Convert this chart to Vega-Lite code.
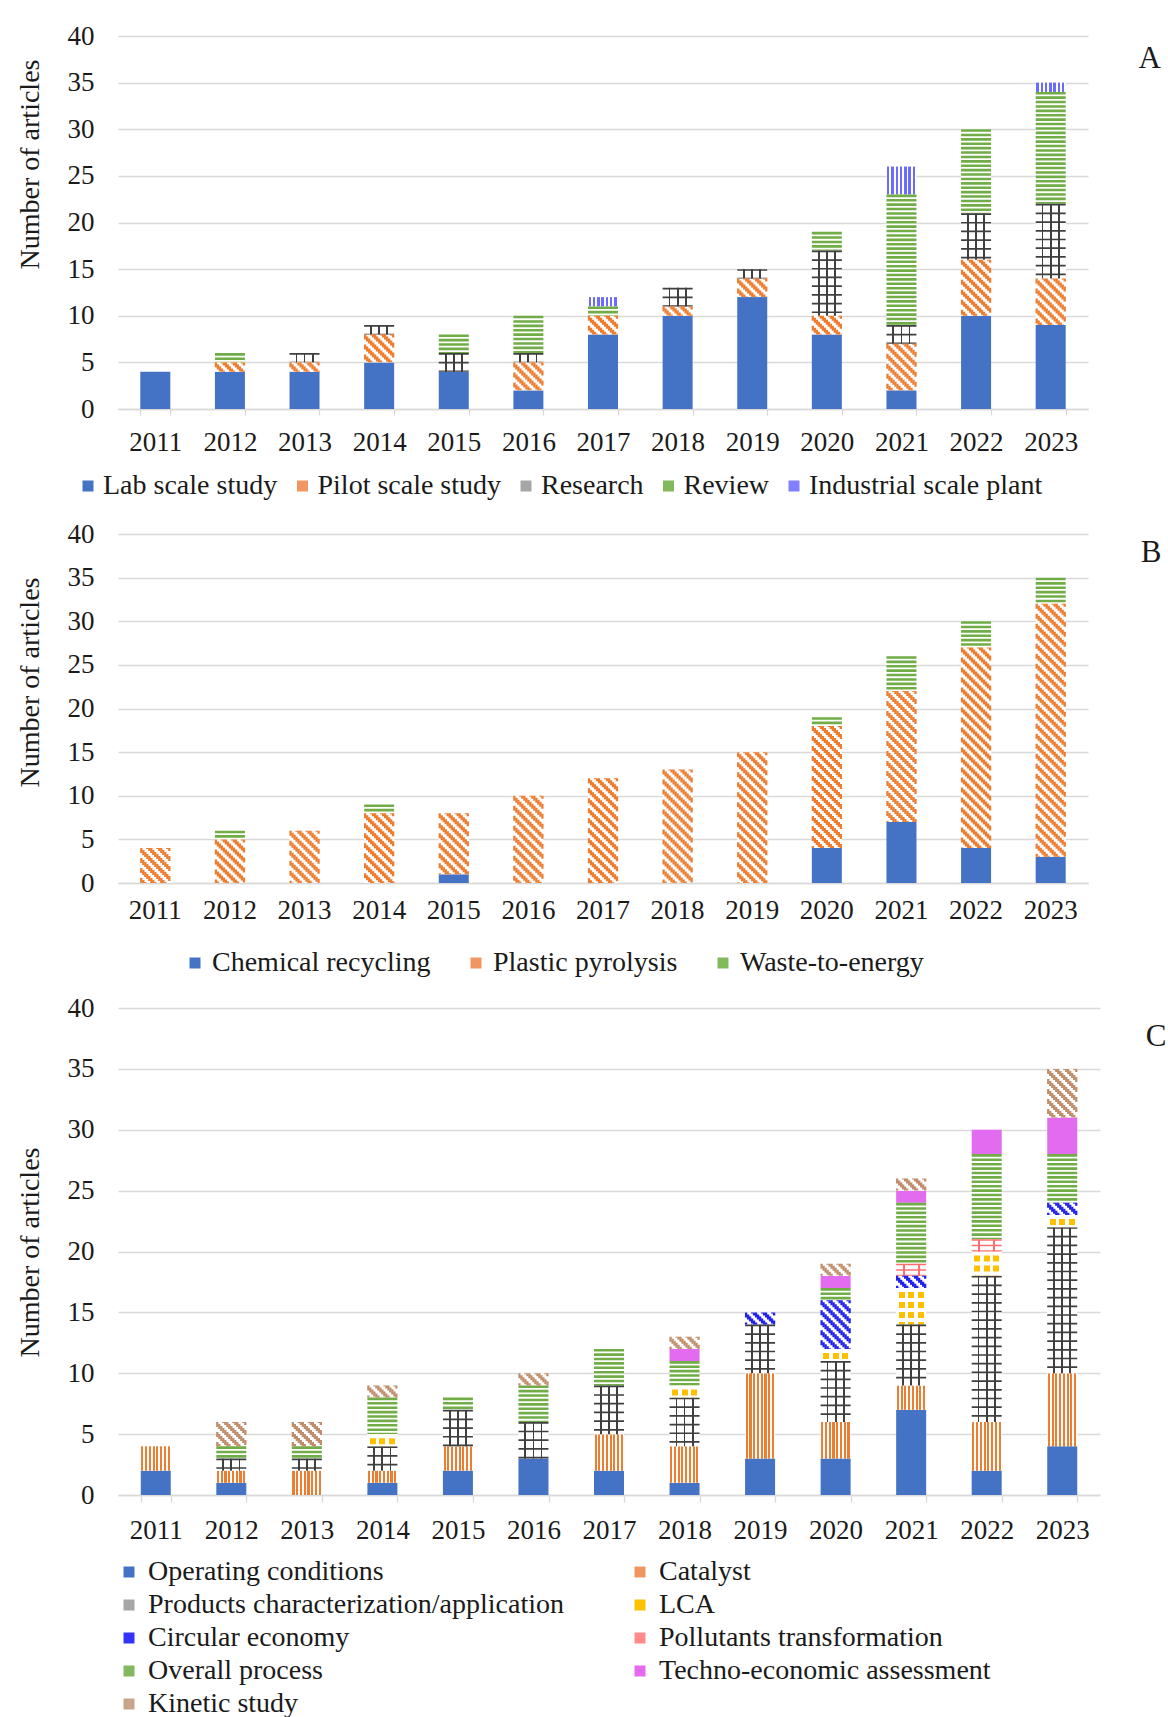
{
  "$schema": "https://vega.github.io/schema/vega-lite/v6.json",
  "background": "white",
  "padding": {"left": 15, "top": 22, "right": 60, "bottom": 10},
  "spacing": 125,
  "bounds": "flush",
  "resolve": {"scale": {"fill": "independent", "x": "independent", "y": "independent"}, "legend": {"fill": "independent"}},
  "config": {
    "font": "Liberation Serif",
    "view": {"stroke": null},
    "axis": {"labelFont": "Liberation Serif", "labelColor": "#1a1a1a", "titleFont": "Liberation Serif", "titleColor": "#1a1a1a", "titleFontWeight": "normal"},
    "legend": {"labelFont": "Liberation Serif", "labelFontSize": 28, "labelColor": "#1a1a1a", "labelLimit": 1000, "symbolType": "square", "symbolSize": 121, "symbolStrokeWidth": 0, "labelOffset": 3, "padding": 0},
    "title": {"font": "Liberation Serif", "fontSize": 31, "fontWeight": "normal", "color": "#1a1a1a"}
  },
  "datasets": {
    "a": [
      {"year": "2011", "cat": "Lab scale study", "n": 4},
      {"year": "2012", "cat": "Lab scale study", "n": 4}, {"year": "2012", "cat": "Pilot scale study", "n": 1}, {"year": "2012", "cat": "Review", "n": 1},
      {"year": "2013", "cat": "Lab scale study", "n": 4}, {"year": "2013", "cat": "Pilot scale study", "n": 1}, {"year": "2013", "cat": "Research", "n": 1},
      {"year": "2014", "cat": "Lab scale study", "n": 5}, {"year": "2014", "cat": "Pilot scale study", "n": 3}, {"year": "2014", "cat": "Research", "n": 1},
      {"year": "2015", "cat": "Lab scale study", "n": 4}, {"year": "2015", "cat": "Research", "n": 2}, {"year": "2015", "cat": "Review", "n": 2},
      {"year": "2016", "cat": "Lab scale study", "n": 2}, {"year": "2016", "cat": "Pilot scale study", "n": 3}, {"year": "2016", "cat": "Research", "n": 1}, {"year": "2016", "cat": "Review", "n": 4},
      {"year": "2017", "cat": "Lab scale study", "n": 8}, {"year": "2017", "cat": "Pilot scale study", "n": 2}, {"year": "2017", "cat": "Review", "n": 1}, {"year": "2017", "cat": "Industrial scale plant", "n": 1},
      {"year": "2018", "cat": "Lab scale study", "n": 10}, {"year": "2018", "cat": "Pilot scale study", "n": 1}, {"year": "2018", "cat": "Research", "n": 2},
      {"year": "2019", "cat": "Lab scale study", "n": 12}, {"year": "2019", "cat": "Pilot scale study", "n": 2}, {"year": "2019", "cat": "Research", "n": 1},
      {"year": "2020", "cat": "Lab scale study", "n": 8}, {"year": "2020", "cat": "Pilot scale study", "n": 2}, {"year": "2020", "cat": "Research", "n": 7}, {"year": "2020", "cat": "Review", "n": 2},
      {"year": "2021", "cat": "Lab scale study", "n": 2}, {"year": "2021", "cat": "Pilot scale study", "n": 5}, {"year": "2021", "cat": "Research", "n": 2}, {"year": "2021", "cat": "Review", "n": 14}, {"year": "2021", "cat": "Industrial scale plant", "n": 3},
      {"year": "2022", "cat": "Lab scale study", "n": 10}, {"year": "2022", "cat": "Pilot scale study", "n": 6}, {"year": "2022", "cat": "Research", "n": 5}, {"year": "2022", "cat": "Review", "n": 9},
      {"year": "2023", "cat": "Lab scale study", "n": 9}, {"year": "2023", "cat": "Pilot scale study", "n": 5}, {"year": "2023", "cat": "Research", "n": 8}, {"year": "2023", "cat": "Review", "n": 12}, {"year": "2023", "cat": "Industrial scale plant", "n": 1}
    ],
    "b": [
      {"year": "2011", "cat": "Plastic pyrolysis", "n": 4},
      {"year": "2012", "cat": "Plastic pyrolysis", "n": 5}, {"year": "2012", "cat": "Waste-to-energy", "n": 1},
      {"year": "2013", "cat": "Plastic pyrolysis", "n": 6},
      {"year": "2014", "cat": "Plastic pyrolysis", "n": 8}, {"year": "2014", "cat": "Waste-to-energy", "n": 1},
      {"year": "2015", "cat": "Chemical recycling", "n": 1}, {"year": "2015", "cat": "Plastic pyrolysis", "n": 7},
      {"year": "2016", "cat": "Plastic pyrolysis", "n": 10},
      {"year": "2017", "cat": "Plastic pyrolysis", "n": 12},
      {"year": "2018", "cat": "Plastic pyrolysis", "n": 13},
      {"year": "2019", "cat": "Plastic pyrolysis", "n": 15},
      {"year": "2020", "cat": "Chemical recycling", "n": 4}, {"year": "2020", "cat": "Plastic pyrolysis", "n": 14}, {"year": "2020", "cat": "Waste-to-energy", "n": 1},
      {"year": "2021", "cat": "Chemical recycling", "n": 7}, {"year": "2021", "cat": "Plastic pyrolysis", "n": 15}, {"year": "2021", "cat": "Waste-to-energy", "n": 4},
      {"year": "2022", "cat": "Chemical recycling", "n": 4}, {"year": "2022", "cat": "Plastic pyrolysis", "n": 23}, {"year": "2022", "cat": "Waste-to-energy", "n": 3},
      {"year": "2023", "cat": "Chemical recycling", "n": 3}, {"year": "2023", "cat": "Plastic pyrolysis", "n": 29}, {"year": "2023", "cat": "Waste-to-energy", "n": 3}
    ],
    "c": [
      {"year": "2011", "cat": "Operating conditions", "n": 2}, {"year": "2011", "cat": "Catalyst", "n": 2},
      {"year": "2012", "cat": "Operating conditions", "n": 1}, {"year": "2012", "cat": "Catalyst", "n": 1}, {"year": "2012", "cat": "Products characterization/application", "n": 1}, {"year": "2012", "cat": "Overall process", "n": 1}, {"year": "2012", "cat": "Kinetic study", "n": 2},
      {"year": "2013", "cat": "Catalyst", "n": 2}, {"year": "2013", "cat": "Products characterization/application", "n": 1}, {"year": "2013", "cat": "Overall process", "n": 1}, {"year": "2013", "cat": "Kinetic study", "n": 2},
      {"year": "2014", "cat": "Operating conditions", "n": 1}, {"year": "2014", "cat": "Catalyst", "n": 1}, {"year": "2014", "cat": "Products characterization/application", "n": 2}, {"year": "2014", "cat": "LCA", "n": 1}, {"year": "2014", "cat": "Overall process", "n": 3}, {"year": "2014", "cat": "Kinetic study", "n": 1},
      {"year": "2015", "cat": "Operating conditions", "n": 2}, {"year": "2015", "cat": "Catalyst", "n": 2}, {"year": "2015", "cat": "Products characterization/application", "n": 3}, {"year": "2015", "cat": "Overall process", "n": 1},
      {"year": "2016", "cat": "Operating conditions", "n": 3}, {"year": "2016", "cat": "Products characterization/application", "n": 3}, {"year": "2016", "cat": "Overall process", "n": 3}, {"year": "2016", "cat": "Kinetic study", "n": 1},
      {"year": "2017", "cat": "Operating conditions", "n": 2}, {"year": "2017", "cat": "Catalyst", "n": 3}, {"year": "2017", "cat": "Products characterization/application", "n": 4}, {"year": "2017", "cat": "Overall process", "n": 3},
      {"year": "2018", "cat": "Operating conditions", "n": 1}, {"year": "2018", "cat": "Catalyst", "n": 3}, {"year": "2018", "cat": "Products characterization/application", "n": 4}, {"year": "2018", "cat": "LCA", "n": 1}, {"year": "2018", "cat": "Overall process", "n": 2}, {"year": "2018", "cat": "Techno-economic assessment", "n": 1}, {"year": "2018", "cat": "Kinetic study", "n": 1},
      {"year": "2019", "cat": "Operating conditions", "n": 3}, {"year": "2019", "cat": "Catalyst", "n": 7}, {"year": "2019", "cat": "Products characterization/application", "n": 4}, {"year": "2019", "cat": "Circular economy", "n": 1},
      {"year": "2020", "cat": "Operating conditions", "n": 3}, {"year": "2020", "cat": "Catalyst", "n": 3}, {"year": "2020", "cat": "Products characterization/application", "n": 5}, {"year": "2020", "cat": "LCA", "n": 1}, {"year": "2020", "cat": "Circular economy", "n": 4}, {"year": "2020", "cat": "Overall process", "n": 1}, {"year": "2020", "cat": "Techno-economic assessment", "n": 1}, {"year": "2020", "cat": "Kinetic study", "n": 1},
      {"year": "2021", "cat": "Operating conditions", "n": 7}, {"year": "2021", "cat": "Catalyst", "n": 2}, {"year": "2021", "cat": "Products characterization/application", "n": 5}, {"year": "2021", "cat": "LCA", "n": 3}, {"year": "2021", "cat": "Circular economy", "n": 1}, {"year": "2021", "cat": "Pollutants transformation", "n": 1}, {"year": "2021", "cat": "Overall process", "n": 5}, {"year": "2021", "cat": "Techno-economic assessment", "n": 1}, {"year": "2021", "cat": "Kinetic study", "n": 1},
      {"year": "2022", "cat": "Operating conditions", "n": 2}, {"year": "2022", "cat": "Catalyst", "n": 4}, {"year": "2022", "cat": "Products characterization/application", "n": 12}, {"year": "2022", "cat": "LCA", "n": 2}, {"year": "2022", "cat": "Pollutants transformation", "n": 1}, {"year": "2022", "cat": "Overall process", "n": 7}, {"year": "2022", "cat": "Techno-economic assessment", "n": 2},
      {"year": "2023", "cat": "Operating conditions", "n": 4}, {"year": "2023", "cat": "Catalyst", "n": 6}, {"year": "2023", "cat": "Products characterization/application", "n": 12}, {"year": "2023", "cat": "LCA", "n": 1}, {"year": "2023", "cat": "Circular economy", "n": 1}, {"year": "2023", "cat": "Overall process", "n": 4}, {"year": "2023", "cat": "Techno-economic assessment", "n": 3}, {"year": "2023", "cat": "Kinetic study", "n": 4}
    ]
  },
  "vconcat": [
    {
      "width": 970, "height": 373,
      "data": {"name": "a"},
      "transform": [{"stack": "n", "groupby": ["year"], "as": ["y0", "y1"]}],
      "title": {"text": "A", "orient": "right", "anchor": "start", "angle": 0, "align": "left", "baseline": "middle", "offset": 28, "dy": 22.5, "frame": "group"},
      "encoding": {
        "x": {"field": "year", "type": "ordinal", "scale": {"paddingInner": 0.6, "paddingOuter": 0.3},
              "axis": {"title": null, "labelAngle": 0, "labelFontSize": 27, "labelPadding": 14, "domainColor": "#D9D9D9", "domainWidth": 1.3, "ticks": true, "tickColor": "#D9D9D9", "tickWidth": 1.3, "tickSize": 6, "tickBand": "extent", "grid": false}},
        "y": {"field": "y1", "type": "quantitative", "scale": {"domain": [0, 40], "nice": false},
              "axis": {"title": "Number of articles", "values": [0, 5, 10, 15, 20, 25, 30, 35, 40], "labelFontSize": 27, "labelPadding": 24, "ticks": false, "tickSize": 0, "domain": false, "grid": true, "gridColor": "#D9D9D9", "gridWidth": 1.3, "titleFontSize": 28, "titleAngle": -90, "titleAlign": "center", "titleBaseline": "alphabetic", "titleX": -80, "titleY": 128}},
        "y2": {"field": "y0"}
      },
      "layer": [
        {"mark": {"type": "bar", "width": 30},
         "encoding": {"fill": {"field": "cat", "type": "nominal",
           "scale": {"domain": ["Lab scale study", "Pilot scale study", "Research", "Review", "Industrial scale plant"], "range": ["#4472C4", "#F19660", "#A6A6A6", "#82B95C", "#7F7FFF"]},
           "legend": {"title": null, "orient": "none", "legendX": -44, "legendY": 436, "direction": "horizontal", "columnPadding": 10.5, "labelOffset": 1},
           "condition": [
             {"test": "datum.cat === 'Research'", "value": {"gradient": "linear", "x1": 0, "y1": 0, "x2": 1, "y2": 0, "stops": [{"offset": 0, "color": "#ffffff"}, {"offset": 0.2, "color": "#ffffff"}, {"offset": 0.2, "color": "#3f3f3f"}, {"offset": 0.26, "color": "#3f3f3f"}, {"offset": 0.26, "color": "#ffffff"}, {"offset": 0.47, "color": "#ffffff"}, {"offset": 0.47, "color": "#3f3f3f"}, {"offset": 0.53, "color": "#3f3f3f"}, {"offset": 0.53, "color": "#ffffff"}, {"offset": 0.74, "color": "#ffffff"}, {"offset": 0.74, "color": "#3f3f3f"}, {"offset": 0.8, "color": "#3f3f3f"}, {"offset": 0.8, "color": "#ffffff"}, {"offset": 1, "color": "#ffffff"}]}},
             {"test": "datum.cat === 'Industrial scale plant'", "value": {"gradient": "linear", "x1": 0, "y1": 0, "x2": 1, "y2": 0, "stops": [{"offset": 0, "color": "#ffffff"}, {"offset": 0.02, "color": "#ffffff"}, {"offset": 0.02, "color": "#6B6BFF"}, {"offset": 0.1, "color": "#6B6BFF"}, {"offset": 0.1, "color": "#ffffff"}, {"offset": 0.163, "color": "#ffffff"}, {"offset": 0.163, "color": "#6B6BFF"}, {"offset": 0.243, "color": "#6B6BFF"}, {"offset": 0.243, "color": "#ffffff"}, {"offset": 0.306, "color": "#ffffff"}, {"offset": 0.306, "color": "#6B6BFF"}, {"offset": 0.386, "color": "#6B6BFF"}, {"offset": 0.386, "color": "#ffffff"}, {"offset": 0.449, "color": "#ffffff"}, {"offset": 0.449, "color": "#6B6BFF"}, {"offset": 0.529, "color": "#6B6BFF"}, {"offset": 0.529, "color": "#ffffff"}, {"offset": 0.591, "color": "#ffffff"}, {"offset": 0.591, "color": "#6B6BFF"}, {"offset": 0.671, "color": "#6B6BFF"}, {"offset": 0.671, "color": "#ffffff"}, {"offset": 0.734, "color": "#ffffff"}, {"offset": 0.734, "color": "#6B6BFF"}, {"offset": 0.814, "color": "#6B6BFF"}, {"offset": 0.814, "color": "#ffffff"}, {"offset": 0.877, "color": "#ffffff"}, {"offset": 0.877, "color": "#6B6BFF"}, {"offset": 0.957, "color": "#6B6BFF"}, {"offset": 0.957, "color": "#ffffff"}, {"offset": 1, "color": "#ffffff"}]}},
             {"test": "datum.cat === 'Pilot scale study' || datum.cat === 'Review'", "value": "#ffffff"}
           ]}}},
        {"transform": [{"filter": "datum.cat === 'Review'"}], "mark": {"type": "rule", "strokeWidth": 30, "strokeDash": [2.6, 1.8], "color": "#70AD47"}},
        {"transform": [{"filter": "datum.cat === 'Research'"}], "mark": {"type": "rule", "strokeWidth": 30, "strokeDash": [1.7, 7], "color": "#3f3f3f"}},
        {"transform": [{"filter": "datum.cat === 'Pilot scale study'"}], "mark": {"type": "rule", "strokeWidth": 2.3, "strokeDash": [5, 5], "strokeDashOffset": 0, "xOffset": -14, "color": "#ED7D31"}},
        {"transform": [{"filter": "datum.cat === 'Pilot scale study'"}], "mark": {"type": "rule", "strokeWidth": 2.3, "strokeDash": [5, 5], "strokeDashOffset": 8, "xOffset": -12, "color": "#ED7D31"}},
        {"transform": [{"filter": "datum.cat === 'Pilot scale study'"}], "mark": {"type": "rule", "strokeWidth": 2.3, "strokeDash": [5, 5], "strokeDashOffset": 6, "xOffset": -10, "color": "#ED7D31"}},
        {"transform": [{"filter": "datum.cat === 'Pilot scale study'"}], "mark": {"type": "rule", "strokeWidth": 2.3, "strokeDash": [5, 5], "strokeDashOffset": 4, "xOffset": -8, "color": "#ED7D31"}},
        {"transform": [{"filter": "datum.cat === 'Pilot scale study'"}], "mark": {"type": "rule", "strokeWidth": 2.3, "strokeDash": [5, 5], "strokeDashOffset": 2, "xOffset": -6, "color": "#ED7D31"}},
        {"transform": [{"filter": "datum.cat === 'Pilot scale study'"}], "mark": {"type": "rule", "strokeWidth": 2.3, "strokeDash": [5, 5], "strokeDashOffset": 0, "xOffset": -4, "color": "#ED7D31"}},
        {"transform": [{"filter": "datum.cat === 'Pilot scale study'"}], "mark": {"type": "rule", "strokeWidth": 2.3, "strokeDash": [5, 5], "strokeDashOffset": 8, "xOffset": -2, "color": "#ED7D31"}},
        {"transform": [{"filter": "datum.cat === 'Pilot scale study'"}], "mark": {"type": "rule", "strokeWidth": 2.3, "strokeDash": [5, 5], "strokeDashOffset": 6, "xOffset": 0, "color": "#ED7D31"}},
        {"transform": [{"filter": "datum.cat === 'Pilot scale study'"}], "mark": {"type": "rule", "strokeWidth": 2.3, "strokeDash": [5, 5], "strokeDashOffset": 4, "xOffset": 2, "color": "#ED7D31"}},
        {"transform": [{"filter": "datum.cat === 'Pilot scale study'"}], "mark": {"type": "rule", "strokeWidth": 2.3, "strokeDash": [5, 5], "strokeDashOffset": 2, "xOffset": 4, "color": "#ED7D31"}},
        {"transform": [{"filter": "datum.cat === 'Pilot scale study'"}], "mark": {"type": "rule", "strokeWidth": 2.3, "strokeDash": [5, 5], "strokeDashOffset": 0, "xOffset": 6, "color": "#ED7D31"}},
        {"transform": [{"filter": "datum.cat === 'Pilot scale study'"}], "mark": {"type": "rule", "strokeWidth": 2.3, "strokeDash": [5, 5], "strokeDashOffset": 8, "xOffset": 8, "color": "#ED7D31"}},
        {"transform": [{"filter": "datum.cat === 'Pilot scale study'"}], "mark": {"type": "rule", "strokeWidth": 2.3, "strokeDash": [5, 5], "strokeDashOffset": 6, "xOffset": 10, "color": "#ED7D31"}},
        {"transform": [{"filter": "datum.cat === 'Pilot scale study'"}], "mark": {"type": "rule", "strokeWidth": 2.3, "strokeDash": [5, 5], "strokeDashOffset": 4, "xOffset": 12, "color": "#ED7D31"}},
        {"transform": [{"filter": "datum.cat === 'Pilot scale study'"}], "mark": {"type": "rule", "strokeWidth": 2.3, "strokeDash": [5, 5], "strokeDashOffset": 2, "xOffset": 14, "color": "#ED7D31"}}
      ]
    },
    {
      "width": 970, "height": 349,
      "data": {"name": "b"},
      "transform": [{"stack": "n", "groupby": ["year"], "as": ["y0", "y1"]}],
      "title": {"text": "B", "orient": "right", "anchor": "start", "angle": 0, "align": "left", "baseline": "middle", "offset": 32, "dy": 19, "frame": "group"},
      "encoding": {
        "x": {"field": "year", "type": "ordinal", "scale": {"paddingInner": 0.6, "paddingOuter": 0.3},
              "axis": {"title": null, "labelAngle": 0, "labelFontSize": 27, "labelPadding": 14, "domainColor": "#D9D9D9", "domainWidth": 1.3, "ticks": false, "tickSize": 0, "grid": false}},
        "y": {"field": "y1", "type": "quantitative", "scale": {"domain": [0, 40], "nice": false},
              "axis": {"title": "Number of articles", "values": [0, 5, 10, 15, 20, 25, 30, 35, 40], "labelFontSize": 27, "labelPadding": 24, "ticks": false, "tickSize": 0, "domain": false, "grid": true, "gridColor": "#D9D9D9", "gridWidth": 1.3, "titleFontSize": 28, "titleAngle": -90, "titleAlign": "center", "titleBaseline": "alphabetic", "titleX": -80, "titleY": 148}},
        "y2": {"field": "y0"}
      },
      "layer": [
        {"mark": {"type": "bar", "width": 30},
         "encoding": {"fill": {"field": "cat", "type": "nominal",
           "scale": {"domain": ["Chemical recycling", "Plastic pyrolysis", "Waste-to-energy"], "range": ["#4472C4", "#F19660", "#82B95C"]},
           "legend": {"title": null, "orient": "none", "legendX": 63, "legendY": 415, "direction": "horizontal", "columnPadding": 31},
           "condition": [
             {"test": "datum.cat === 'Plastic pyrolysis' || datum.cat === 'Waste-to-energy'", "value": "#ffffff"}
           ]}}},
        {"transform": [{"filter": "datum.cat === 'Waste-to-energy'"}], "mark": {"type": "rule", "strokeWidth": 30, "strokeDash": [2.6, 1.8], "color": "#70AD47"}},
        {"transform": [{"filter": "datum.cat === 'Plastic pyrolysis'"}], "mark": {"type": "rule", "strokeWidth": 2.3, "strokeDash": [5, 5], "strokeDashOffset": 0, "xOffset": -14, "color": "#ED7D31"}},
        {"transform": [{"filter": "datum.cat === 'Plastic pyrolysis'"}], "mark": {"type": "rule", "strokeWidth": 2.3, "strokeDash": [5, 5], "strokeDashOffset": 8, "xOffset": -12, "color": "#ED7D31"}},
        {"transform": [{"filter": "datum.cat === 'Plastic pyrolysis'"}], "mark": {"type": "rule", "strokeWidth": 2.3, "strokeDash": [5, 5], "strokeDashOffset": 6, "xOffset": -10, "color": "#ED7D31"}},
        {"transform": [{"filter": "datum.cat === 'Plastic pyrolysis'"}], "mark": {"type": "rule", "strokeWidth": 2.3, "strokeDash": [5, 5], "strokeDashOffset": 4, "xOffset": -8, "color": "#ED7D31"}},
        {"transform": [{"filter": "datum.cat === 'Plastic pyrolysis'"}], "mark": {"type": "rule", "strokeWidth": 2.3, "strokeDash": [5, 5], "strokeDashOffset": 2, "xOffset": -6, "color": "#ED7D31"}},
        {"transform": [{"filter": "datum.cat === 'Plastic pyrolysis'"}], "mark": {"type": "rule", "strokeWidth": 2.3, "strokeDash": [5, 5], "strokeDashOffset": 0, "xOffset": -4, "color": "#ED7D31"}},
        {"transform": [{"filter": "datum.cat === 'Plastic pyrolysis'"}], "mark": {"type": "rule", "strokeWidth": 2.3, "strokeDash": [5, 5], "strokeDashOffset": 8, "xOffset": -2, "color": "#ED7D31"}},
        {"transform": [{"filter": "datum.cat === 'Plastic pyrolysis'"}], "mark": {"type": "rule", "strokeWidth": 2.3, "strokeDash": [5, 5], "strokeDashOffset": 6, "xOffset": 0, "color": "#ED7D31"}},
        {"transform": [{"filter": "datum.cat === 'Plastic pyrolysis'"}], "mark": {"type": "rule", "strokeWidth": 2.3, "strokeDash": [5, 5], "strokeDashOffset": 4, "xOffset": 2, "color": "#ED7D31"}},
        {"transform": [{"filter": "datum.cat === 'Plastic pyrolysis'"}], "mark": {"type": "rule", "strokeWidth": 2.3, "strokeDash": [5, 5], "strokeDashOffset": 2, "xOffset": 4, "color": "#ED7D31"}},
        {"transform": [{"filter": "datum.cat === 'Plastic pyrolysis'"}], "mark": {"type": "rule", "strokeWidth": 2.3, "strokeDash": [5, 5], "strokeDashOffset": 0, "xOffset": 6, "color": "#ED7D31"}},
        {"transform": [{"filter": "datum.cat === 'Plastic pyrolysis'"}], "mark": {"type": "rule", "strokeWidth": 2.3, "strokeDash": [5, 5], "strokeDashOffset": 8, "xOffset": 8, "color": "#ED7D31"}},
        {"transform": [{"filter": "datum.cat === 'Plastic pyrolysis'"}], "mark": {"type": "rule", "strokeWidth": 2.3, "strokeDash": [5, 5], "strokeDashOffset": 6, "xOffset": 10, "color": "#ED7D31"}},
        {"transform": [{"filter": "datum.cat === 'Plastic pyrolysis'"}], "mark": {"type": "rule", "strokeWidth": 2.3, "strokeDash": [5, 5], "strokeDashOffset": 4, "xOffset": 12, "color": "#ED7D31"}},
        {"transform": [{"filter": "datum.cat === 'Plastic pyrolysis'"}], "mark": {"type": "rule", "strokeWidth": 2.3, "strokeDash": [5, 5], "strokeDashOffset": 2, "xOffset": 14, "color": "#ED7D31"}}
      ]
    },
    {
      "width": 982, "height": 487,
      "data": {"name": "c"},
      "transform": [{"stack": "n", "groupby": ["year"], "as": ["y0", "y1"]}],
      "title": {"text": "C", "orient": "right", "anchor": "start", "angle": 0, "align": "left", "baseline": "middle", "offset": 25, "dy": 29, "frame": "group"},
      "encoding": {
        "x": {"field": "year", "type": "ordinal", "scale": {"paddingInner": 0.6, "paddingOuter": 0.3},
              "axis": {"title": null, "labelAngle": 0, "labelFontSize": 27, "labelPadding": 15, "domainColor": "#D9D9D9", "domainWidth": 1.3, "ticks": true, "tickColor": "#D9D9D9", "tickWidth": 1.3, "tickSize": 7, "tickBand": "extent", "grid": false}},
        "y": {"field": "y1", "type": "quantitative", "scale": {"domain": [0, 40], "nice": false},
              "axis": {"title": "Number of articles", "values": [0, 5, 10, 15, 20, 25, 30, 35, 40], "labelFontSize": 27, "labelPadding": 24, "ticks": false, "tickSize": 0, "domain": false, "grid": true, "gridColor": "#D9D9D9", "gridWidth": 1.3, "titleFontSize": 28, "titleAngle": -90, "titleAlign": "center", "titleBaseline": "alphabetic", "titleX": -80, "titleY": 244}},
        "y2": {"field": "y0"}
      },
      "layer": [
        {"mark": {"type": "bar", "width": 30},
         "encoding": {"fill": {"field": "cat", "type": "nominal",
           "scale": {"domain": ["Operating conditions", "Catalyst", "Products characterization/application", "LCA", "Circular economy", "Pollutants transformation", "Overall process", "Techno-economic assessment", "Kinetic study"], "range": ["#4472C4", "#F19660", "#A6A6A6", "#FFC000", "#3333FF", "#FF8A8A", "#82B95C", "#E36BF0", "#C9A38A"]},
           "legend": {"title": null, "orient": "none", "legendX": -3, "legendY": 550, "direction": "horizontal", "columns": 2, "columnPadding": 62, "rowPadding": 5, "labelOffset": 5},
           "condition": [
             {"test": "datum.cat === 'Catalyst'", "value": {"gradient": "linear", "x1": 0, "y1": 0, "x2": 1, "y2": 0, "stops": [{"offset": 0, "color": "#ffffff"}, {"offset": 0.02, "color": "#ffffff"}, {"offset": 0.02, "color": "#ED7D31"}, {"offset": 0.09, "color": "#ED7D31"}, {"offset": 0.09, "color": "#ffffff"}, {"offset": 0.145, "color": "#ffffff"}, {"offset": 0.145, "color": "#ED7D31"}, {"offset": 0.215, "color": "#ED7D31"}, {"offset": 0.215, "color": "#ffffff"}, {"offset": 0.27, "color": "#ffffff"}, {"offset": 0.27, "color": "#ED7D31"}, {"offset": 0.34, "color": "#ED7D31"}, {"offset": 0.34, "color": "#ffffff"}, {"offset": 0.395, "color": "#ffffff"}, {"offset": 0.395, "color": "#ED7D31"}, {"offset": 0.465, "color": "#ED7D31"}, {"offset": 0.465, "color": "#ffffff"}, {"offset": 0.52, "color": "#ffffff"}, {"offset": 0.52, "color": "#ED7D31"}, {"offset": 0.59, "color": "#ED7D31"}, {"offset": 0.59, "color": "#ffffff"}, {"offset": 0.645, "color": "#ffffff"}, {"offset": 0.645, "color": "#ED7D31"}, {"offset": 0.715, "color": "#ED7D31"}, {"offset": 0.715, "color": "#ffffff"}, {"offset": 0.77, "color": "#ffffff"}, {"offset": 0.77, "color": "#ED7D31"}, {"offset": 0.84, "color": "#ED7D31"}, {"offset": 0.84, "color": "#ffffff"}, {"offset": 0.895, "color": "#ffffff"}, {"offset": 0.895, "color": "#ED7D31"}, {"offset": 0.965, "color": "#ED7D31"}, {"offset": 0.965, "color": "#ffffff"}, {"offset": 1, "color": "#ffffff"}]}},
             {"test": "datum.cat === 'Products characterization/application'", "value": {"gradient": "linear", "x1": 0, "y1": 0, "x2": 1, "y2": 0, "stops": [{"offset": 0, "color": "#ffffff"}, {"offset": 0.2, "color": "#ffffff"}, {"offset": 0.2, "color": "#3f3f3f"}, {"offset": 0.26, "color": "#3f3f3f"}, {"offset": 0.26, "color": "#ffffff"}, {"offset": 0.47, "color": "#ffffff"}, {"offset": 0.47, "color": "#3f3f3f"}, {"offset": 0.53, "color": "#3f3f3f"}, {"offset": 0.53, "color": "#ffffff"}, {"offset": 0.74, "color": "#ffffff"}, {"offset": 0.74, "color": "#3f3f3f"}, {"offset": 0.8, "color": "#3f3f3f"}, {"offset": 0.8, "color": "#ffffff"}, {"offset": 1, "color": "#ffffff"}]}},
             {"test": "datum.cat === 'LCA'", "value": {"gradient": "linear", "x1": 0, "y1": 0, "x2": 1, "y2": 0, "stops": [{"offset": 0, "color": "#ffffff"}, {"offset": 0.08, "color": "#ffffff"}, {"offset": 0.08, "color": "#FFC000"}, {"offset": 0.28, "color": "#FFC000"}, {"offset": 0.28, "color": "#ffffff"}, {"offset": 0.4, "color": "#ffffff"}, {"offset": 0.4, "color": "#FFC000"}, {"offset": 0.6, "color": "#FFC000"}, {"offset": 0.6, "color": "#ffffff"}, {"offset": 0.72, "color": "#ffffff"}, {"offset": 0.72, "color": "#FFC000"}, {"offset": 0.92, "color": "#FFC000"}, {"offset": 0.92, "color": "#ffffff"}, {"offset": 1, "color": "#ffffff"}]}},
             {"test": "datum.cat === 'Pollutants transformation'", "value": {"gradient": "linear", "x1": 0, "y1": 0, "x2": 1, "y2": 0, "stops": [{"offset": 0, "color": "#ffffff"}, {"offset": 0.22, "color": "#ffffff"}, {"offset": 0.22, "color": "#FF6F6F"}, {"offset": 0.28, "color": "#FF6F6F"}, {"offset": 0.28, "color": "#ffffff"}, {"offset": 0.72, "color": "#ffffff"}, {"offset": 0.72, "color": "#FF6F6F"}, {"offset": 0.78, "color": "#FF6F6F"}, {"offset": 0.78, "color": "#ffffff"}, {"offset": 1, "color": "#ffffff"}]}},
             {"test": "datum.cat === 'Circular economy' || datum.cat === 'Kinetic study' || datum.cat === 'Overall process'", "value": "#ffffff"}
           ]}}},
        {"transform": [{"filter": "datum.cat === 'Overall process'"}], "mark": {"type": "rule", "strokeWidth": 30, "strokeDash": [2.6, 1.8], "color": "#70AD47"}},
        {"transform": [{"filter": "datum.cat === 'Products characterization/application'"}], "mark": {"type": "rule", "strokeWidth": 30, "strokeDash": [1.7, 7], "color": "#3f3f3f"}},
        {"transform": [{"filter": "datum.cat === 'LCA'"}], "mark": {"type": "rule", "strokeWidth": 30, "strokeDash": [4, 6], "color": "#ffffff"}},
        {"transform": [{"filter": "datum.cat === 'Pollutants transformation'"}], "mark": {"type": "rule", "strokeWidth": 30, "strokeDash": [1.5, 4], "color": "#FF6F6F"}},
        {"transform": [{"filter": "datum.cat === 'Circular economy' || datum.cat === 'Kinetic study'"}], "mark": {"type": "rule", "strokeWidth": 2.3, "strokeDash": [5, 5], "strokeDashOffset": 0, "xOffset": -14}, "encoding": {"stroke": {"condition": {"test": "datum.cat === 'Kinetic study'", "value": "#C08E6C"}, "value": "#2323E8"}}},
        {"transform": [{"filter": "datum.cat === 'Circular economy' || datum.cat === 'Kinetic study'"}], "mark": {"type": "rule", "strokeWidth": 2.3, "strokeDash": [5, 5], "strokeDashOffset": 8, "xOffset": -12}, "encoding": {"stroke": {"condition": {"test": "datum.cat === 'Kinetic study'", "value": "#C08E6C"}, "value": "#2323E8"}}},
        {"transform": [{"filter": "datum.cat === 'Circular economy' || datum.cat === 'Kinetic study'"}], "mark": {"type": "rule", "strokeWidth": 2.3, "strokeDash": [5, 5], "strokeDashOffset": 6, "xOffset": -10}, "encoding": {"stroke": {"condition": {"test": "datum.cat === 'Kinetic study'", "value": "#C08E6C"}, "value": "#2323E8"}}},
        {"transform": [{"filter": "datum.cat === 'Circular economy' || datum.cat === 'Kinetic study'"}], "mark": {"type": "rule", "strokeWidth": 2.3, "strokeDash": [5, 5], "strokeDashOffset": 4, "xOffset": -8}, "encoding": {"stroke": {"condition": {"test": "datum.cat === 'Kinetic study'", "value": "#C08E6C"}, "value": "#2323E8"}}},
        {"transform": [{"filter": "datum.cat === 'Circular economy' || datum.cat === 'Kinetic study'"}], "mark": {"type": "rule", "strokeWidth": 2.3, "strokeDash": [5, 5], "strokeDashOffset": 2, "xOffset": -6}, "encoding": {"stroke": {"condition": {"test": "datum.cat === 'Kinetic study'", "value": "#C08E6C"}, "value": "#2323E8"}}},
        {"transform": [{"filter": "datum.cat === 'Circular economy' || datum.cat === 'Kinetic study'"}], "mark": {"type": "rule", "strokeWidth": 2.3, "strokeDash": [5, 5], "strokeDashOffset": 0, "xOffset": -4}, "encoding": {"stroke": {"condition": {"test": "datum.cat === 'Kinetic study'", "value": "#C08E6C"}, "value": "#2323E8"}}},
        {"transform": [{"filter": "datum.cat === 'Circular economy' || datum.cat === 'Kinetic study'"}], "mark": {"type": "rule", "strokeWidth": 2.3, "strokeDash": [5, 5], "strokeDashOffset": 8, "xOffset": -2}, "encoding": {"stroke": {"condition": {"test": "datum.cat === 'Kinetic study'", "value": "#C08E6C"}, "value": "#2323E8"}}},
        {"transform": [{"filter": "datum.cat === 'Circular economy' || datum.cat === 'Kinetic study'"}], "mark": {"type": "rule", "strokeWidth": 2.3, "strokeDash": [5, 5], "strokeDashOffset": 6, "xOffset": 0}, "encoding": {"stroke": {"condition": {"test": "datum.cat === 'Kinetic study'", "value": "#C08E6C"}, "value": "#2323E8"}}},
        {"transform": [{"filter": "datum.cat === 'Circular economy' || datum.cat === 'Kinetic study'"}], "mark": {"type": "rule", "strokeWidth": 2.3, "strokeDash": [5, 5], "strokeDashOffset": 4, "xOffset": 2}, "encoding": {"stroke": {"condition": {"test": "datum.cat === 'Kinetic study'", "value": "#C08E6C"}, "value": "#2323E8"}}},
        {"transform": [{"filter": "datum.cat === 'Circular economy' || datum.cat === 'Kinetic study'"}], "mark": {"type": "rule", "strokeWidth": 2.3, "strokeDash": [5, 5], "strokeDashOffset": 2, "xOffset": 4}, "encoding": {"stroke": {"condition": {"test": "datum.cat === 'Kinetic study'", "value": "#C08E6C"}, "value": "#2323E8"}}},
        {"transform": [{"filter": "datum.cat === 'Circular economy' || datum.cat === 'Kinetic study'"}], "mark": {"type": "rule", "strokeWidth": 2.3, "strokeDash": [5, 5], "strokeDashOffset": 0, "xOffset": 6}, "encoding": {"stroke": {"condition": {"test": "datum.cat === 'Kinetic study'", "value": "#C08E6C"}, "value": "#2323E8"}}},
        {"transform": [{"filter": "datum.cat === 'Circular economy' || datum.cat === 'Kinetic study'"}], "mark": {"type": "rule", "strokeWidth": 2.3, "strokeDash": [5, 5], "strokeDashOffset": 8, "xOffset": 8}, "encoding": {"stroke": {"condition": {"test": "datum.cat === 'Kinetic study'", "value": "#C08E6C"}, "value": "#2323E8"}}},
        {"transform": [{"filter": "datum.cat === 'Circular economy' || datum.cat === 'Kinetic study'"}], "mark": {"type": "rule", "strokeWidth": 2.3, "strokeDash": [5, 5], "strokeDashOffset": 6, "xOffset": 10}, "encoding": {"stroke": {"condition": {"test": "datum.cat === 'Kinetic study'", "value": "#C08E6C"}, "value": "#2323E8"}}},
        {"transform": [{"filter": "datum.cat === 'Circular economy' || datum.cat === 'Kinetic study'"}], "mark": {"type": "rule", "strokeWidth": 2.3, "strokeDash": [5, 5], "strokeDashOffset": 4, "xOffset": 12}, "encoding": {"stroke": {"condition": {"test": "datum.cat === 'Kinetic study'", "value": "#C08E6C"}, "value": "#2323E8"}}},
        {"transform": [{"filter": "datum.cat === 'Circular economy' || datum.cat === 'Kinetic study'"}], "mark": {"type": "rule", "strokeWidth": 2.3, "strokeDash": [5, 5], "strokeDashOffset": 2, "xOffset": 14}, "encoding": {"stroke": {"condition": {"test": "datum.cat === 'Kinetic study'", "value": "#C08E6C"}, "value": "#2323E8"}}}
      ]
    }
  ]
}
